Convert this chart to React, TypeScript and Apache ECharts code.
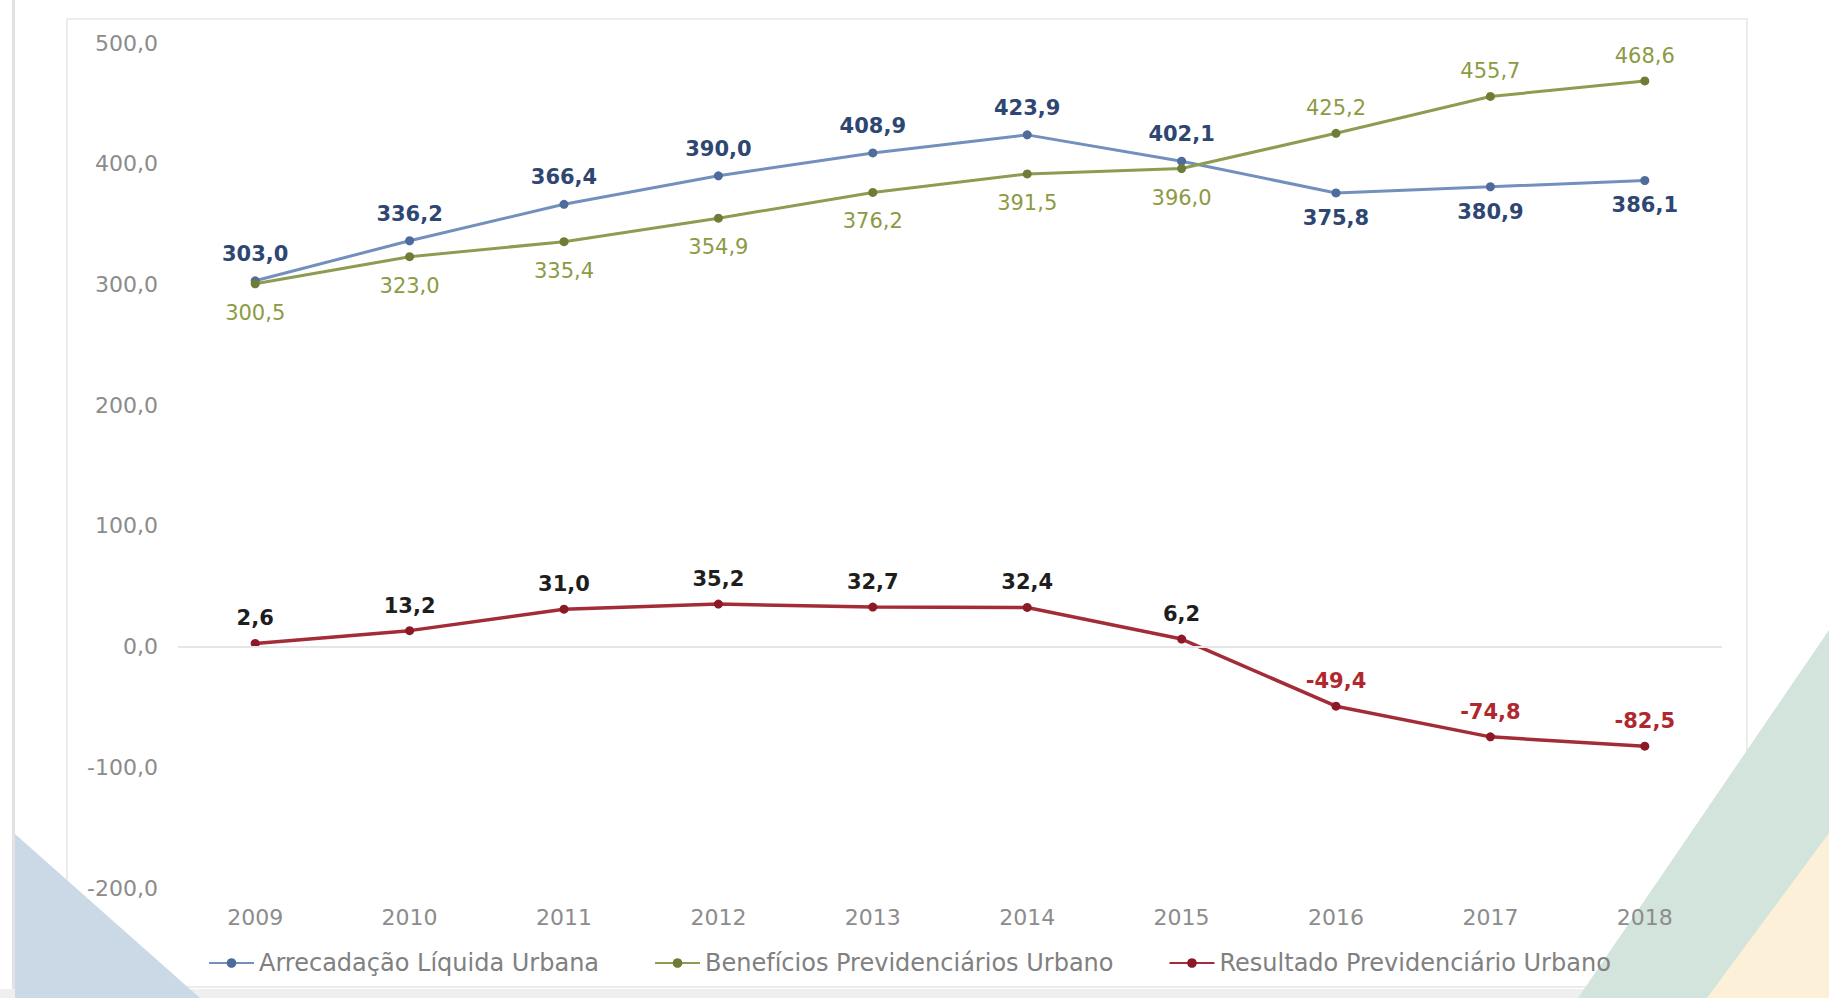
import React, { useEffect, useRef } from "react";
import * as echarts from "echarts";

const years = ["2009", "2010", "2011", "2012", "2013", "2014", "2015", "2016", "2017", "2018"];
const arrecadacao = [303.0, 336.2, 366.4, 390.0, 408.9, 423.9, 402.1, 375.8, 380.9, 386.1];
const beneficios = [300.5, 323.0, 335.4, 354.9, 376.2, 391.5, 396.0, 425.2, 455.7, 468.6];
const resultado = [2.6, 13.2, 31.0, 35.2, 32.7, 32.4, 6.2, -49.4, -74.8, -82.5];
const seriesNames = [
  "Arrecadação Líquida Urbana",
  "Benefícios Previdenciários Urbano",
  "Resultado Previdenciário Urbano",
];
const yMin = -200;
const yMax = 500;
const yStep = 100;

const FONT = "DejaVu Sans";
const fmt = (v: number) => v.toFixed(1).replace(".", ",");

export default function App() {
  const ref = useRef<HTMLDivElement>(null);
  useEffect(() => {
    if (!ref.current) return;
    const chart = echarts.init(ref.current, null, { renderer: "svg" });

    const blueData = arrecadacao.map((v, i) => {
      const top = v >= beneficios[i];
      return {
        value: v,
        label: { position: top ? "top" : "bottom", distance: top ? 12 : 10 },
      };
    });
    const greenData = beneficios.map((v, i) => {
      const top = v > arrecadacao[i];
      return {
        value: v,
        label: { position: top ? "top" : "bottom", distance: top ? 10 : 14 },
      };
    });
    const redData = resultado.map((v) => ({
      value: v,
      label: { color: v < 0 ? "#b0282e" : "#1e1e1e" },
    }));

    chart.setOption({
      animation: false,
      backgroundColor: "#ffffff",
      graphic: [
        {
          type: "rect",
          z: -5,
          shape: { x: 12, y: 0, width: 3, height: 998 },
          style: { fill: "#e2e2e2" },
        },
        {
          type: "rect",
          z: -5,
          shape: { x: 67, y: 19, width: 1680, height: 968 },
          style: { fill: "none", stroke: "#ececec", lineWidth: 2 },
        },
        {
          type: "rect",
          z: -5,
          shape: { x: 0, y: 989, width: 1829, height: 9 },
          style: { fill: "#efefef" },
        },
        {
          type: "polygon",
          z: -4,
          shape: { points: [[15, 834], [15, 998], [200, 998]] },
          style: { fill: "#cbd9e6" },
        },
        {
          type: "polygon",
          z: -4,
          shape: { points: [[1829, 630], [1829, 998], [1578, 998]] },
          style: { fill: "#d3e4dc" },
        },
        {
          type: "polygon",
          z: -4,
          shape: { points: [[1829, 833], [1829, 998], [1707, 998]] },
          style: { fill: "#fcf0d8" },
        },
      ],
      grid: { left: 178, right: 107, top: 43, bottom: 110, containLabel: false },
      legend: {
        left: 203,
        top: 946,
        z: 10,
        itemWidth: 45,
        itemHeight: 12,
        itemGap: 55,
        textStyle: { fontFamily: FONT, fontSize: 24, color: "#808080" },
        data: seriesNames,
      },
      xAxis: {
        type: "category",
        data: years,
        boundaryGap: true,
        z: 10,
        axisLine: { show: false },
        axisTick: { show: false },
        axisLabel: { fontFamily: FONT, fontSize: 22, color: "#8c8c8c", margin: 18 },
      },
      yAxis: {
        type: "value",
        min: yMin,
        max: yMax,
        interval: yStep,
        z: 10,
        axisLine: { show: false },
        axisTick: { show: false },
        splitLine: { show: false },
        axisLabel: {
          fontFamily: FONT,
          fontSize: 22,
          color: "#8c8c8c",
          margin: 20,
          formatter: (v: number) => fmt(v),
        },
      },
      series: [
        {
          name: seriesNames[0],
          type: "line",
          data: blueData,
          symbol: "circle",
          symbolSize: 9,
          lineStyle: { color: "#7390bd", width: 3 },
          itemStyle: { color: "#4d6c9c" },
          label: {
            show: true,
            fontFamily: FONT,
            fontSize: 21,
            fontWeight: "bold",
            color: "#2e4672",
            formatter: (p: any) => fmt(p.value),
          },
          z: 3,
        },
        {
          name: seriesNames[1],
          type: "line",
          data: greenData,
          symbol: "circle",
          symbolSize: 9,
          lineStyle: { color: "#8e9c52", width: 3 },
          itemStyle: { color: "#6e7d36" },
          label: {
            show: true,
            fontFamily: FONT,
            fontSize: 21,
            fontWeight: "normal",
            color: "#8c9a44",
            formatter: (p: any) => fmt(p.value),
          },
          z: 3,
        },
        {
          name: seriesNames[2],
          type: "line",
          data: redData,
          symbol: "circle",
          symbolSize: 9,
          lineStyle: { color: "#a32c38", width: 3.5 },
          itemStyle: { color: "#8c1a26" },
          label: {
            show: true,
            position: "top",
            distance: 10,
            fontFamily: FONT,
            fontSize: 21,
            fontWeight: "bold",
            formatter: (p: any) => fmt(p.value),
          },
          markLine: {
            silent: true,
            symbol: "none",
            label: { show: false },
            lineStyle: { color: "#e6e6e6", width: 2, type: "solid" },
            data: [{ yAxis: 0 }],
          },
          z: 3,
        },
      ],
    });

    return () => chart.dispose();
  }, []);

  return (
    <div
      ref={ref}
      style={{ position: "fixed", left: 0, top: 0, width: "1829px", height: "998px" }}
    />
  );
}
